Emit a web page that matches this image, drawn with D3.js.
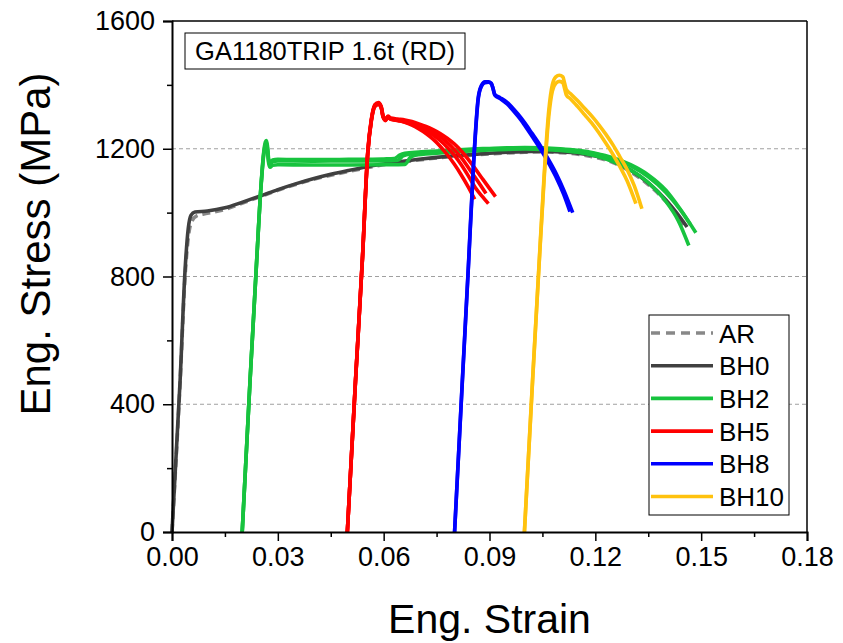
<!DOCTYPE html>
<html><head><meta charset="utf-8">
<script src="https://cdn.jsdelivr.net/npm/d3@7"></script>
<style>body{margin:0;background:#fff}svg{display:block}text{font-family:"Liberation Sans",Arial,sans-serif}</style>
</head><body>
<svg id="c" width="843" height="643"></svg>
<script>
// ---- data: [strain, stress(MPa)] ----
const xTicks = [0, 0.03, 0.06, 0.09, 0.12, 0.15, 0.18];
const yTicks = [0, 400, 800, 1200, 1600];
const gridValues = [400, 800, 1200];
const legendLabels = ["AR", "BH0", "BH2", "BH5", "BH8", "BH10"];
const seriesColors = ["#888888", "#404040", "#17c33e", "#ff0000", "#0000ff", "#ffc20e"];

const ar = [[0,0],[0.0023,470],[0.0037,800],[0.0047,930],[0.0057,975],[0.007,990],[0.01,998],[0.015,1010],[0.02,1030],[0.025,1050],[0.03,1070],[0.035,1088],[0.04,1104],[0.045,1117],[0.05,1129],[0.055,1140],[0.06,1150],[0.065,1158],[0.07,1165],[0.075,1171],[0.08,1176],[0.085,1180],[0.09,1184],[0.095,1187],[0.1,1189],[0.105,1190],[0.11,1188],[0.115,1183],[0.12,1173],[0.125,1157],[0.13,1128],[0.135,1088],[0.14,1035],[0.1435,985],[0.1455,955]];
const bh0 = [[0,0],[0.0023,475],[0.0037,820],[0.0046,950],[0.0054,992],[0.0065,1002],[0.01,1005],[0.015,1015],[0.02,1033],[0.025,1052],[0.03,1072],[0.035,1090],[0.04,1106],[0.045,1120],[0.05,1132],[0.055,1143],[0.06,1152],[0.065,1160],[0.07,1167],[0.075,1173],[0.08,1178],[0.085,1182],[0.09,1186],[0.095,1189],[0.1,1191],[0.105,1192],[0.11,1190],[0.115,1186],[0.12,1177],[0.125,1161],[0.13,1133],[0.135,1093],[0.14,1040],[0.143,1000],[0.146,955]];
const bh2a = [[0.0199,0],[0.0221,470],[0.024,850],[0.0252,1080],[0.026,1190],[0.0265,1222],[0.0268,1226],[0.0271,1205],[0.0274,1168],[0.0278,1155],[0.0285,1165],[0.03,1167],[0.035,1166],[0.04,1166],[0.045,1166],[0.05,1167],[0.055,1167],[0.06,1168],[0.063,1169],[0.0645,1180],[0.066,1186],[0.07,1190],[0.075,1193],[0.08,1196],[0.085,1199],[0.09,1201],[0.095,1203],[0.1,1204],[0.105,1203],[0.11,1200],[0.115,1195],[0.12,1186],[0.125,1172],[0.13,1150],[0.135,1118],[0.14,1070],[0.144,1012],[0.1485,937]];
const bh2b = [[0.0199,0],[0.0221,468],[0.024,848],[0.0252,1075],[0.026,1180],[0.0265,1210],[0.0268,1212],[0.0271,1190],[0.0274,1155],[0.0278,1142],[0.0285,1148],[0.03,1150],[0.04,1149],[0.05,1149],[0.06,1150],[0.066,1151],[0.0675,1172],[0.069,1180],[0.075,1186],[0.08,1190],[0.085,1193],[0.09,1196],[0.095,1198],[0.1,1199],[0.105,1198],[0.11,1195],[0.115,1189],[0.12,1178],[0.125,1160],[0.13,1133],[0.135,1094],[0.14,1035],[0.1435,975],[0.1465,897]];
const bh2c = [[0.0199,0],[0.0221,470],[0.024,850],[0.0252,1078],[0.026,1185],[0.0265,1215],[0.0268,1218],[0.0271,1198],[0.0274,1160],[0.0278,1150],[0.0285,1160],[0.03,1162],[0.04,1161],[0.05,1162],[0.06,1162],[0.064,1164],[0.0655,1178],[0.068,1184],[0.075,1189],[0.08,1193],[0.085,1196],[0.09,1199],[0.095,1201],[0.1,1202],[0.105,1201],[0.11,1198],[0.115,1193],[0.12,1184],[0.125,1169],[0.13,1146],[0.135,1112],[0.14,1063],[0.144,1010],[0.147,962]];
const bh5a = [[0.0497,0],[0.052,470],[0.054,860],[0.0555,1190],[0.0565,1290],[0.0575,1335],[0.0585,1342],[0.0593,1330],[0.0598,1302],[0.0605,1290],[0.0612,1300],[0.062,1293],[0.064,1289],[0.066,1283],[0.068,1274],[0.07,1262],[0.072,1248],[0.074,1230],[0.076,1208],[0.078,1182],[0.08,1152],[0.082,1118],[0.084,1080],[0.0858,1042]];
const bh5b = [[0.0497,0],[0.052,468],[0.054,858],[0.0555,1186],[0.0565,1286],[0.0575,1332],[0.0585,1339],[0.0593,1328],[0.0598,1300],[0.0605,1288],[0.0612,1298],[0.062,1292],[0.064,1288],[0.066,1284],[0.068,1277],[0.07,1268],[0.072,1257],[0.074,1243],[0.076,1226],[0.078,1205],[0.08,1180],[0.082,1150],[0.084,1115],[0.086,1078],[0.088,1050],[0.0897,1028]];
const bh5c = [[0.0497,0],[0.052,472],[0.054,862],[0.0555,1192],[0.0565,1292],[0.0575,1338],[0.0585,1345],[0.0593,1333],[0.0598,1305],[0.0605,1292],[0.0612,1302],[0.062,1296],[0.064,1293],[0.066,1290],[0.068,1285],[0.07,1278],[0.072,1270],[0.074,1260],[0.076,1248],[0.078,1233],[0.08,1215],[0.082,1193],[0.085,1152],[0.088,1106],[0.0905,1068],[0.0917,1050]];
const bh5d = [[0.0497,0],[0.052,470],[0.054,860],[0.0555,1188],[0.0565,1288],[0.0575,1334],[0.0585,1341],[0.0593,1330],[0.0598,1302],[0.0605,1290],[0.0612,1300],[0.062,1294],[0.064,1290],[0.066,1286],[0.068,1280],[0.07,1272],[0.072,1263],[0.074,1252],[0.076,1238],[0.078,1220],[0.08,1198],[0.082,1172],[0.085,1125],[0.0875,1085],[0.089,1060]];
const bh8a = [[0.0801,0],[0.0823,475],[0.084,830],[0.0855,1160],[0.0868,1360],[0.0877,1398],[0.0887,1410],[0.0897,1410],[0.0905,1405],[0.091,1388],[0.0915,1368],[0.093,1357],[0.095,1340],[0.097,1316],[0.099,1289],[0.1,1273],[0.102,1240],[0.1045,1198],[0.107,1150],[0.109,1108],[0.111,1058],[0.1128,1003]];
const bh8b = [[0.0801,0],[0.0823,470],[0.084,825],[0.0855,1152],[0.0868,1355],[0.0877,1395],[0.0887,1407],[0.0897,1408],[0.0905,1404],[0.091,1390],[0.0915,1370],[0.093,1360],[0.095,1345],[0.097,1322],[0.099,1296],[0.1,1281],[0.102,1249],[0.1045,1208],[0.107,1161],[0.109,1120],[0.111,1072],[0.1136,1000]];
const bh10a = [[0.0999,0],[0.1022,475],[0.104,830],[0.1055,1120],[0.1068,1320],[0.1078,1400],[0.1088,1425],[0.1098,1430],[0.1108,1425],[0.1113,1405],[0.1118,1385],[0.113,1372],[0.115,1350],[0.117,1326],[0.119,1302],[0.121,1275],[0.123,1245],[0.125,1212],[0.127,1174],[0.129,1135],[0.131,1085],[0.1332,1012]];
const bh10b = [[0.0999,0],[0.1022,470],[0.104,825],[0.1055,1108],[0.1068,1300],[0.1078,1380],[0.1088,1405],[0.1098,1411],[0.1108,1406],[0.1113,1388],[0.1118,1368],[0.113,1356],[0.115,1332],[0.117,1306],[0.119,1280],[0.121,1250],[0.123,1217],[0.125,1182],[0.127,1143],[0.129,1100],[0.1315,1028]];

const curves = [
  {d: ar, c: 0, dash: true},
  {d: bh0, c: 1},
  {d: bh2b, c: 2},{d: bh2c, c: 2},{d: bh2a, c: 2},
  {d: bh5a, c: 3},{d: bh5b, c: 3},{d: bh5c, c: 3},{d: bh5d, c: 3},
  {d: bh8a, c: 4},{d: bh8b, c: 4},
  {d: bh10a, c: 5},{d: bh10b, c: 5}
];

// ---- drawing ----
const svg = d3.select("#c");
const L = 172, R = 807, T = 21, B = 532;
const x = d3.scaleLinear().domain([0, 0.18]).range([L, R]);
const y = d3.scaleLinear().domain([0, 1600]).range([B, T]);

svg.append("rect").attr("width", 843).attr("height", 643).attr("fill", "#fff");

// grid
svg.append("g").selectAll("line").data(gridValues).join("line")
  .attr("x1", L).attr("x2", R).attr("y1", d => y(d)).attr("y2", d => y(d))
  .attr("stroke", "#a0a0a0").attr("stroke-width", 1).attr("stroke-dasharray", "4,3");

// curves
const line = d3.line().x(d => x(d[0])).y(d => y(d[1])).curve(d3.curveMonotoneX);
svg.append("g").selectAll("path").data(curves).join("path")
  .attr("d", d => line(d.d)).attr("fill", "none")
  .attr("stroke", d => seriesColors[d.c]).attr("stroke-width", 3.6)
  .attr("stroke-linejoin", "round").attr("stroke-linecap", "butt")
  .attr("stroke-dasharray", d => d.dash ? "8,5" : null);

// frame
svg.append("line").attr("x1", L).attr("x2", R).attr("y1", T).attr("y2", T).attr("stroke", "#000").attr("stroke-width", 1.5);
svg.append("line").attr("x1", R).attr("x2", R).attr("y1", T).attr("y2", B).attr("stroke", "#000").attr("stroke-width", 1.5);

// axes
const xAxis = d3.axisBottom(x).tickValues(xTicks).tickFormat(d3.format(".2f")).tickSize(9).tickPadding(6);
const gx = svg.append("g").attr("transform", `translate(0,${B})`).call(xAxis);
const xMinor = d3.axisBottom(x).tickValues(xTicks.slice(0, -1).map((t, i) => (t + xTicks[i + 1]) / 2)).tickFormat("").tickSize(5);
svg.append("g").attr("transform", `translate(0,${B})`).call(xMinor).select(".domain").remove();
const yAxis = d3.axisLeft(y).tickValues(yTicks).tickFormat(d3.format("d")).tickSize(9).tickPadding(8);
const gy = svg.append("g").attr("transform", `translate(${L},0)`).call(yAxis);
const yMinor = d3.axisLeft(y).tickValues(yTicks.slice(0, -1).map((t, i) => (t + yTicks[i + 1]) / 2)).tickFormat("").tickSize(5);
svg.append("g").attr("transform", `translate(${L},0)`).call(yMinor).select(".domain").remove();
svg.selectAll(".domain").attr("stroke", "#000").attr("stroke-width", 2);
svg.selectAll(".tick line").attr("stroke", "#000").attr("stroke-width", 1.5);
gx.selectAll("text").attr("font-size", 27).attr("fill", "#000").attr("font-family", "Liberation Sans, Arial, sans-serif");
gy.selectAll("text").attr("font-size", 27).attr("fill", "#000").attr("font-family", "Liberation Sans, Arial, sans-serif");

// axis titles
svg.append("text").attr("x", (L + R) / 2).attr("y", 633).attr("text-anchor", "middle")
  .attr("font-size", 41).text("Eng. Strain");
svg.append("text").attr("transform", "translate(50,244) rotate(-90)").attr("text-anchor", "middle")
  .attr("font-size", 42).text("Eng. Stress (MPa)");

// label box
svg.append("rect").attr("x", 185).attr("y", 33).attr("width", 280).attr("height", 36)
  .attr("fill", "#fff").attr("stroke", "#000").attr("stroke-width", 1);
svg.append("text").attr("x", 325).attr("y", 60).attr("text-anchor", "middle")
  .attr("font-size", 25.5).text("GA1180TRIP 1.6t (RD)");

// legend
svg.append("rect").attr("x", 649).attr("y", 315).attr("width", 140).attr("height", 200)
  .attr("fill", "#fff").attr("stroke", "#000").attr("stroke-width", 1);
const lg = svg.append("g").selectAll("g").data(legendLabels).join("g")
  .attr("transform", (d, i) => `translate(0,${333 + i * 32.7})`);
lg.append("line").attr("x1", 651).attr("x2", 713).attr("y1", 0).attr("y2", 0)
  .attr("stroke", (d, i) => seriesColors[i]).attr("stroke-width", 3.6)
  .attr("stroke-dasharray", (d, i) => i === 0 ? "9,6" : null);
lg.append("text").attr("x", 719).attr("y", 9.5).attr("font-size", 26).text(d => d);
</script>
</body></html>
